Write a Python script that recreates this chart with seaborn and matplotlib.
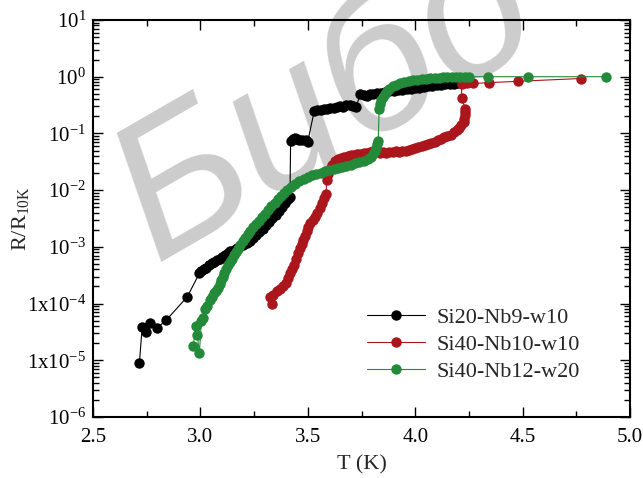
import numpy as np
import pandas as pd
import matplotlib
matplotlib.use("Agg")
import matplotlib.pyplot as plt
from matplotlib.ticker import FixedLocator, FixedFormatter, LogLocator, MultipleLocator, NullFormatter
import seaborn as sns

# Si20-Nb9-w10 (black)
t_black = [2.716, 2.729, 2.747, 2.765, 2.797, 2.841, 2.939, 2.995, 3.005, 3.015,
           3.027, 3.04, 3.052, 3.065, 3.078, 3.09, 3.102, 3.115, 3.128, 3.14,
           3.155, 3.17, 3.185, 3.20, 3.215, 3.23, 3.245, 3.26, 3.275, 3.29,
           3.305, 3.32, 3.335, 3.35, 3.365, 3.38, 3.395, 3.41, 3.417,
           3.42, 3.43, 3.44, 3.45, 3.46, 3.475, 3.49, 3.50,
           3.53, 3.545, 3.56, 3.575, 3.59, 3.605, 3.62, 3.635, 3.65, 3.665,
           3.68, 3.695, 3.71, 3.725,
           3.745, 3.76, 3.775, 3.79, 3.805, 3.82, 3.84, 3.86, 3.88, 3.90,
           3.92, 3.94, 3.96, 3.98, 4.00, 4.02, 4.04, 4.06, 4.08, 4.10,
           4.12, 4.14, 4.16, 4.18, 4.20, 4.215]
r_black = [8.9e-6, 3.9e-5, 3.2e-5, 4.5e-5, 3.7e-5, 5.1e-5, 1.32e-4, 3.4e-4, 3.7e-4, 4.0e-4,
           4.3e-4, 4.7e-4, 5.1e-4, 5.5e-4, 5.8e-4, 6.2e-4, 6.6e-4, 7.1e-4, 7.8e-4, 8.3e-4,
           8.9e-4, 9.5e-4, 1.02e-3, 1.1e-3, 1.17e-3, 1.29e-3, 1.45e-3, 1.62e-3, 1.82e-3, 2.1e-3,
           2.4e-3, 2.75e-3, 3.2e-3, 3.7e-3, 4.3e-3, 5.0e-3, 5.9e-3, 6.9e-3, 7.6e-3,
           0.074, 0.079, 0.083, 0.079, 0.078, 0.076, 0.076, 0.072,
           0.25, 0.26, 0.26, 0.27, 0.275, 0.28, 0.28, 0.295, 0.30, 0.29,
           0.315, 0.315, 0.31, 0.295,
           0.50, 0.48, 0.45, 0.49, 0.50, 0.51, 0.525, 0.54, 0.55, 0.56,
           0.575, 0.59, 0.60, 0.615, 0.63, 0.645, 0.66, 0.675, 0.69, 0.71,
           0.725, 0.73, 0.74, 0.75, 0.76, 0.77]

# Si40-Nb10-w10 (red)
t_red = [3.332, 3.324, 3.34, 3.355, 3.37, 3.385, 3.40, 3.41, 3.418, 3.425,
         3.435, 3.445, 3.456, 3.465, 3.472, 3.479, 3.487, 3.495, 3.502, 3.512,
         3.522, 3.534, 3.545, 3.555, 3.565, 3.575, 3.585,
         3.588, 3.595, 3.603, 3.612, 3.625, 3.64, 3.655, 3.67, 3.685, 3.70,
         3.715, 3.73, 3.745, 3.76, 3.775, 3.79, 3.805, 3.82, 3.835, 3.85,
         3.865, 3.88, 3.895, 3.91, 3.925, 3.94, 3.955, 3.97, 3.985, 4.00,
         4.015, 4.03, 4.045, 4.06, 4.075, 4.09, 4.105, 4.12, 4.135, 4.15,
         4.165, 4.18, 4.195, 4.205, 4.215, 4.225, 4.228, 4.232, 4.234, 4.233,
         4.216, 4.216, 4.24, 4.27, 4.345, 4.477, 4.772]
r_red = [1.0e-4, 1.32e-4, 1.41e-4, 1.66e-4, 1.82e-4, 2.0e-4, 2.3e-4, 2.8e-4, 3.4e-4, 4.0e-4,
         4.8e-4, 6.0e-4, 7.8e-4, 9.5e-4, 1.12e-3, 1.32e-3, 1.58e-3, 1.9e-3, 2.24e-3, 2.6e-3,
         3.0e-3, 3.4e-3, 4.0e-3, 4.8e-3, 5.9e-3, 7.2e-3, 8.7e-3,
         0.015, 0.019, 0.024, 0.028, 0.032, 0.035, 0.037, 0.039, 0.040, 0.041,
         0.042, 0.043, 0.044, 0.045, 0.046, 0.048, 0.050, 0.048, 0.046, 0.047,
         0.046, 0.048, 0.047, 0.049, 0.048, 0.049, 0.050, 0.051, 0.054, 0.055,
         0.057, 0.060, 0.063, 0.066, 0.069, 0.072, 0.076, 0.079, 0.085, 0.089,
         0.095, 0.105, 0.115, 0.126, 0.138, 0.158, 0.18, 0.21, 0.24, 0.27,
         0.42, 0.74, 0.76, 0.76, 0.785, 0.83, 0.93]

# Si40-Nb12-w20 (green)
t_green = [2.967, 2.978, 2.986, 2.995, 3.005, 3.012, 3.022, 3.030, 3.045, 3.055,
           3.062, 3.072, 3.083, 3.090, 3.097, 3.104, 3.112, 3.120, 3.128, 3.137,
           3.146, 3.155, 3.165, 3.175, 3.186, 3.197, 3.208, 3.22, 3.232, 3.245,
           3.258, 3.272, 3.286, 3.30, 3.315, 3.33, 3.345, 3.36, 3.375, 3.39,
           3.405, 3.42, 3.44, 3.46, 3.48, 3.50, 3.52, 3.54, 3.56, 3.58,
           3.60, 3.62, 3.64, 3.66, 3.68, 3.70, 3.72, 3.74, 3.76, 3.78,
           3.795, 3.805, 3.812, 3.818, 3.822, 3.828,
           3.832, 3.836, 3.842, 3.85, 3.86, 3.87, 3.88, 3.895, 3.91, 3.93,
           3.95, 3.97, 3.99, 4.01, 4.03, 4.05, 4.07, 4.09, 4.11, 4.13,
           4.15, 4.17, 4.19, 4.21, 4.23, 4.25, 4.337, 4.527, 4.888]
r_green = [1.8e-5, 4.0e-5, 2.8e-5, 1.32e-5, 5.0e-5, 5.6e-5, 7.9e-5, 8.9e-5, 1.17e-4, 1.32e-4,
           1.51e-4, 1.66e-4, 1.9e-4, 2.24e-4, 2.6e-4, 3.0e-4, 3.5e-4, 4.0e-4, 4.7e-4, 5.4e-4,
           6.2e-4, 7.1e-4, 8.1e-4, 9.3e-4, 1.1e-3, 1.26e-3, 1.45e-3, 1.66e-3, 1.9e-3, 2.2e-3,
           2.5e-3, 2.9e-3, 3.3e-3, 3.8e-3, 4.4e-3, 5.2e-3, 6.0e-3, 6.9e-3, 7.9e-3, 8.9e-3,
           0.0102, 0.0115, 0.0129, 0.0145, 0.0158, 0.0174, 0.0186, 0.0195, 0.0204, 0.0214,
           0.0224, 0.0234, 0.0245, 0.0257, 0.0269, 0.0282, 0.0295, 0.0309, 0.0324, 0.0347,
           0.038, 0.0427, 0.049, 0.056, 0.0646, 0.0724,
           0.275, 0.331, 0.389, 0.447, 0.501, 0.562, 0.617, 0.676, 0.724, 0.767,
           0.804, 0.832, 0.861, 0.887, 0.908, 0.925, 0.94, 0.953, 0.964, 0.975,
           0.984, 0.991, 0.995, 1.0, 1.0, 1.0, 1.0, 1.0, 1.0]

labels = ["Si20-Nb9-w10", "Si40-Nb10-w10", "Si40-Nb12-w20"]
colors = ["#000000", "#ab161c", "#238a39"]

y_ticks = [1e1, 1e0, 1e-1, 1e-2, 1e-3, 1e-4, 1e-5, 1e-6]
y_tick_labels = [r"$10^{1}$", r"$10^{0}$", r"$10^{-1}$", r"$10^{-2}$", r"$10^{-3}$",
                 r"1x10$^{-4}$", r"1x10$^{-5}$", r"$10^{-6}$"]
x_ticks = [2.5, 3.0, 3.5, 4.0, 4.5, 5.0]

sns.set_style("ticks")
plt.rcParams["font.family"] = ["Liberation Serif", "DejaVu Serif"]
plt.rcParams["mathtext.fontset"] = "custom"
plt.rcParams["mathtext.rm"] = "Liberation Serif"
plt.rcParams["mathtext.it"] = "Liberation Serif:italic"
plt.rcParams["mathtext.bf"] = "Liberation Serif:bold"

fig = plt.figure(figsize=(6.43, 4.78), dpi=100)
fig.patch.set_facecolor("white")
ax = fig.add_axes([93 / 643, 1 - 417 / 478, 537 / 643, 397 / 478])
ax.set_facecolor("none")

# watermark behind everything
fig.text(155 / 643, 1 - 262 / 478, "Бибо", fontsize=140, color="#cccccc",
         family="Liberation Sans", style="italic", rotation=30, rotation_mode="anchor",
         ha="left", va="baseline", zorder=-5)

series = [(t_black, r_black), (t_red, r_red), (t_green, r_green)]
for (t, r), lab, col in zip(series, labels, colors):
    df = pd.DataFrame({"T": t, "R": r})
    sns.lineplot(data=df, x="T", y="R", sort=False, estimator=None, ax=ax,
                 color=col, linewidth=0.8, marker="o", markersize=7.5,
                 markeredgewidth=0, label=lab)

ax.set_yscale("log")
ax.set_xlim(2.5, 5.0)
ax.set_ylim(1e-6, 1e1)
ax.xaxis.set_major_locator(FixedLocator(x_ticks))
ax.xaxis.set_minor_locator(MultipleLocator(0.25))
ax.set_xticklabels([f"{v:.1f}" for v in x_ticks])
ax.yaxis.set_major_locator(FixedLocator(y_ticks))
ax.yaxis.set_major_formatter(FixedFormatter(y_tick_labels))
ax.yaxis.set_minor_locator(LogLocator(base=10, subs=np.arange(2, 10), numticks=20))
ax.yaxis.set_minor_formatter(NullFormatter())

ax.tick_params(which="both", direction="in", top=True, right=True, width=1.0,
               labelsize=15, colors="black")
ax.tick_params(which="major", length=7, pad=8)
ax.tick_params(which="minor", length=4)
ax.tick_params(axis="y", which="major", pad=5)
for s in ax.spines.values():
    s.set_linewidth(1.5)
    s.set_color("black")

ax.set_xlabel("T (K)", fontsize=16, labelpad=6)
ax.set_ylabel(r"R/R$_{\mathregular{10K}}$", fontsize=16, labelpad=-3)

ax.legend(loc="upper left", bbox_to_anchor=(0.510, 0.277), frameon=False,
          fontsize=16, handlelength=2.6, handletextpad=0.55, labelspacing=0.3,
          borderaxespad=0, borderpad=0)

fig.savefig("out.png", dpi=100, facecolor="white")
